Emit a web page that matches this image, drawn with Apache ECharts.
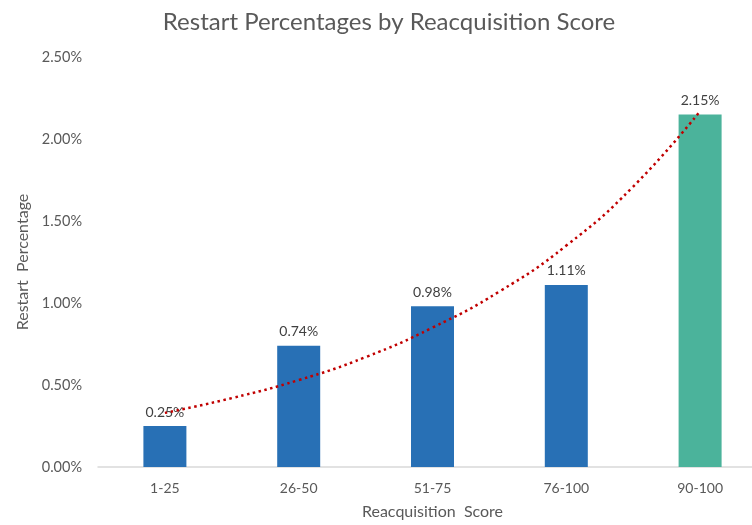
<!DOCTYPE html>
<html><head><meta charset="utf-8">
<script src="https://cdn.jsdelivr.net/npm/echarts@6/dist/echarts.min.js"></script>
<style>html,body{margin:0;padding:0;background:#fff;overflow:hidden}#c{width:778px;height:525px}</style>
</head><body><div id="c"></div>
<script>
const categories = ['1-25', '26-50', '51-75', '76-100', '90-100'];
const restartPct = [0.25, 0.74, 0.98, 1.11, 2.15];
const barColors = ['#2870B5', '#2870B5', '#2870B5', '#2870B5', '#4BB39B'];
const trendX = [1, 1.5, 2, 2.5, 3, 3.5, 4, 4.5, 5];
const trendY = [0.33, 0.42, 0.53, 0.67, 0.85, 1.07, 1.35, 1.71, 2.17];
const yTicks = [0, 0.5, 1.0, 1.5, 2.0, 2.5];

const font = 'Lato, "Open Sans", sans-serif';
const chart = echarts.init(document.getElementById('c'), null, {renderer: 'canvas'});
chart.setOption({
  animation: false,
  backgroundColor: '#fff',
  textStyle: {fontFamily: font},
  title: {
    text: 'Restart Percentages by Reacquisition Score',
    left: 'center', top: 5,
    textStyle: {fontFamily: font, fontSize: 24, fontWeight: 'normal', color: '#595959'}
  },
  grid: {left: 98, top: 57, width: 669, height: 413, containLabel: false},
  xAxis: [{
    type: 'category', data: categories,
    axisLine: {lineStyle: {color: '#D9D9D9', width: 1.5}},
    axisTick: {show: false},
    axisLabel: {color: '#595959', fontSize: 14, margin: 14, fontFamily: font},
    name: 'Reacquisition  Score', nameLocation: 'middle', nameGap: 37,
    nameTextStyle: {color: '#595959', fontSize: 16, fontFamily: font}
  }, {
    type: 'value', min: 0.5, max: 5.5, show: false
  }],
  yAxis: {
    type: 'value', min: yTicks[0], max: yTicks[yTicks.length - 1], interval: 0.5,
    splitLine: {show: false}, axisLine: {show: false}, axisTick: {show: false},
    axisLabel: {color: '#595959', fontSize: 14.5, margin: 16, fontFamily: font,
      formatter: v => v.toFixed(2) + '%'},
    name: 'Restart  Percentage', nameLocation: 'middle', nameGap: 66, nameRotate: 90,
    nameTextStyle: {color: '#595959', fontSize: 16, fontFamily: font}
  },
  series: [{
    type: 'bar', xAxisIndex: 0,
    data: restartPct.map((v, i) => ({value: v, itemStyle: {color: barColors[i]}})),
    barWidth: 43,
    label: {show: true, position: 'top', distance: 7, color: '#404040', fontSize: 14, fontFamily: font,
      formatter: p => p.value.toFixed(2) + '%'}
  }, {
    type: 'line', xAxisIndex: 1, smooth: true, symbol: 'none',
    data: trendX.map((x, i) => [x, trendY[i]]),
    lineStyle: {color: '#C00000', width: 2.5, type: [2.5, 3.5]},
    z: 5
  }]
});
</script></body></html>
